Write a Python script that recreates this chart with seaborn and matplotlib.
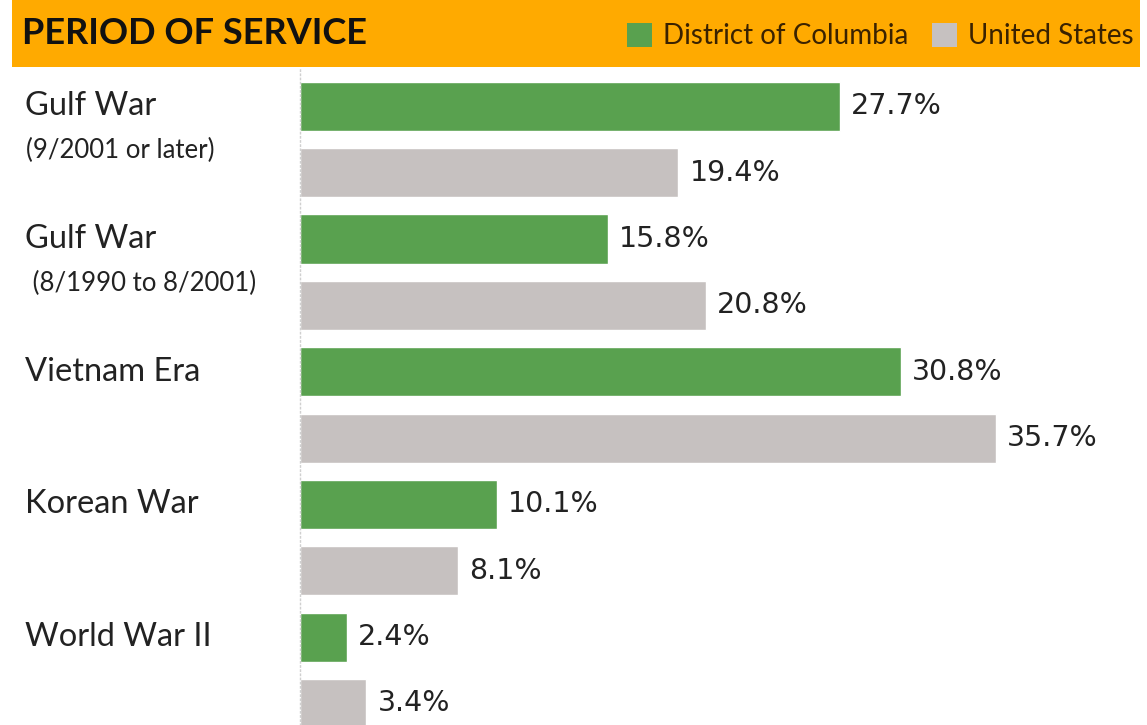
import matplotlib
matplotlib.use("Agg")
import matplotlib.pyplot as plt
import matplotlib.transforms as mtransforms
from matplotlib.patches import Rectangle, Patch
import seaborn as sns
import pandas as pd

# ---- data ----
periods = ["Gulf War", "Gulf War ", "Vietnam Era", "Korean War", "World War II"]
period_labels = ["Gulf War", "Gulf War", "Vietnam Era", "Korean War", "World War II"]
period_sublabels = ["(9/2001 or later)", " (8/1990 to 8/2001)", "", "", ""]
areas = ["District of Columbia", "United States"]
dc_values = [27.7, 15.8, 30.8, 10.1, 2.4]
us_values = [19.4, 20.8, 35.7, 8.1, 3.4]

title = "PERIOD OF SERVICE"
colors = {"District of Columbia": "#59A14F", "United States": "#C6C1C0"}
header_color = "#FFAA00"

df = pd.DataFrame({
    "period": periods * 2,
    "area": [areas[0]] * len(periods) + [areas[1]] * len(periods),
    "pct": dc_values + us_values,
})

sns.set_theme(style="white")
plt.rcParams["font.family"] = ["DejaVu Sans"]

W, H = 1147, 725
fig = plt.figure(figsize=(W / 100, H / 100), dpi=100)
fig.patch.set_facecolor("white")

ax_top = 67
ax = fig.add_axes([300 / W, 0, 1 - 300 / W, (H - ax_top) / H])
sns.barplot(data=df, x="pct", y="period", hue="area", palette=colors,
            width=1.0, gap=0.26, legend=False, ax=ax, saturation=1)

px_per_pct = 19.5
ax.set_xlim(0, (W - 300) / px_per_pct)
c0, step = 139.5, 132.7
ax.set_ylim((H - c0) / step, (ax_top - c0) / step)

for cont in ax.containers:
    ax.bar_label(cont, fmt="%.1f%%", padding=8, fontsize=20.5, color="#222222",
                 family="DejaVu Sans")

ax.set_xlabel("")
ax.set_ylabel("")
ax.set_xticks([])
ax.set_yticks([])
for s in ["top", "right", "bottom"]:
    ax.spines[s].set_visible(False)
ax.spines["left"].set_visible(True)
ax.spines["left"].set_color("#D0D0D0")
ax.spines["left"].set_linestyle((0, (1, 2)))
ax.spines["left"].set_linewidth(1)

trans = mtransforms.blended_transform_factory(fig.transFigure, ax.transData)
for i, (lab, sub) in enumerate(zip(period_labels, period_sublabels)):
    ax.text(25 / W, i - 0.25, lab, transform=trans, ha="left", va="center",
            fontsize=23.5, color="#222222", family="Lato")
    if sub:
        ax.text(26 / W, i - 0.25 + 44 / step, sub, transform=trans, ha="left",
                va="center", fontsize=18.5, color="#222222", family="Lato")

# header band
fig.patches.append(Rectangle((12 / W, 1 - 67 / H), (1140 - 12) / W, 67 / H,
                             transform=fig.transFigure, facecolor=header_color,
                             edgecolor="none", zorder=0))
fig.text(22 / W, 1 - 33 / H, title, ha="left", va="center", fontsize=26,
         fontweight="bold", family="Lato", color="#111111")

handles = [Patch(facecolor=colors[a], edgecolor="none", label=a) for a in areas]
leg = fig.legend(handles=handles, loc="center right",
                 bbox_to_anchor=(1134 / W, 1 - 36 / H), ncol=2, frameon=False,
                 prop={"family": "Lato", "size": 20}, handlelength=0.9,
                 handleheight=0.95, handletextpad=0.4, columnspacing=0.85,
                 borderaxespad=0, borderpad=0)
for t in leg.get_texts():
    t.set_color("#3A2200")

fig.savefig("out.png", dpi=100, facecolor="white")
